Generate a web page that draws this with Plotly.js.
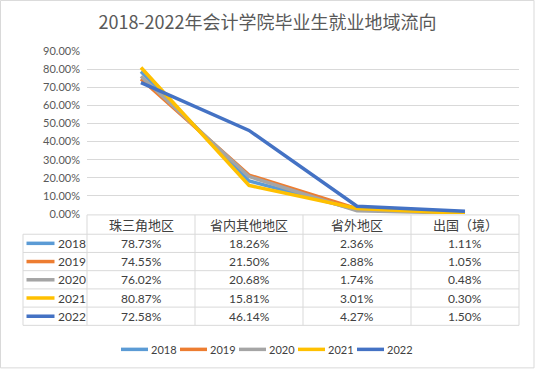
<!DOCTYPE html>
<html>
<head>
<meta charset="utf-8">
<script src="https://cdn.plot.ly/plotly-3.0.1.min.js"></script>
<style>
html,body{margin:0;padding:0;background:#fff;}
#chart{width:535px;height:370px;}
</style>
</head>
<body>
<div id="chart"></div>
<script>
// ---- data ----
var categories = ['珠三角地区', '省内其他地区', '省外地区', '出国（境）'];
var years = ['2018', '2019', '2020', '2021', '2022'];
var v2018 = [78.73, 18.26, 2.36, 1.11];
var v2019 = [74.55, 21.50, 2.88, 1.05];
var v2020 = [76.02, 20.68, 1.74, 0.48];
var v2021 = [80.87, 15.81, 3.01, 0.30];
var v2022 = [72.58, 46.14, 4.27, 1.50];
var yTickVals = [0, 0.1, 0.2, 0.3, 0.4, 0.5, 0.6, 0.7, 0.8, 0.9];
var titleText = '2018-2022年会计学院毕业生就业地域流向';

var series = [v2018, v2019, v2020, v2021, v2022];
var colors = ['#5B9BD5', '#ED7D31', '#A5A5A5', '#FFC000', '#4472C4'];

// ---- geometry (pixels) ----
var W = 535, H = 370;
var L = 87, R = 519, T = 51, B = 213.8;
function px(x) { return (x - L) / (R - L); }
function py(y) { return (B - y) / (B - T); }

var FONT = 'Lato, "Noto Sans CJK SC", sans-serif';
var TXT = '#404040';

var traces = series.map(function (s, i) {
  return {
    type: 'scatter', mode: 'lines', name: years[i],
    x: categories, y: s.map(function (v) { return v / 100; }),
    line: { color: colors[i], width: 3.5 },
    hoverinfo: 'skip', showlegend: false
  };
});

// ---- table ----
var rowLines = [214.7, 234, 252.2, 270.4, 288.6, 306.8, 325];
var colLines = [87, 195, 303, 411, 519];
var tableLeft = 23;
var lineCol = '#d9d9d9';
var shapes = [];
function hline(y, x0, x1) {
  shapes.push({ type: 'line', xref: 'paper', yref: 'paper', x0: px(x0), x1: px(x1), y0: py(y), y1: py(y), line: { color: lineCol, width: 1 } });
}
function vline(x, y0, y1) {
  shapes.push({ type: 'line', xref: 'paper', yref: 'paper', x0: px(x), x1: px(x), y0: py(y0), y1: py(y1), line: { color: lineCol, width: 1 } });
}
hline(rowLines[0], L, R);
for (var r = 1; r < rowLines.length; r++) hline(rowLines[r], tableLeft, R);
vline(tableLeft, rowLines[1], rowLines[rowLines.length - 1]);
colLines.forEach(function (x) { vline(x, rowLines[0], rowLines[rowLines.length - 1]); });

var annotations = [];
categories.forEach(function (c, j) {
  annotations.push({ xref: 'x', yref: 'paper', x: j, y: py((rowLines[0] + rowLines[1]) / 2), text: c, showarrow: false,
    font: { family: FONT, size: 13, color: TXT }, xanchor: 'center', yanchor: 'middle' });
});
series.forEach(function (s, i) {
  var yc = (rowLines[i + 1] + rowLines[i + 2]) / 2;
  // table row key line
  shapes.push({ type: 'line', xref: 'paper', yref: 'paper', x0: px(26.5), x1: px(54.5), y0: py(yc), y1: py(yc), line: { color: colors[i], width: 3.5 } });
  annotations.push({ xref: 'paper', yref: 'paper', x: px(56), y: py(yc), text: years[i], showarrow: false,
    font: { family: FONT, size: 12, color: TXT }, xanchor: 'left', yanchor: 'middle' });
  s.forEach(function (v, j) {
    annotations.push({ xref: 'x', yref: 'paper', x: j, y: py(yc), text: v.toFixed(2) + '%', showarrow: false,
      font: { family: FONT, size: 12, color: TXT }, xanchor: 'center', yanchor: 'middle' });
  });
  // bottom legend entry
  var lx = 121 + i * 59, ly = 349;
  shapes.push({ type: 'line', xref: 'paper', yref: 'paper', x0: px(lx), x1: px(lx + 27), y0: py(ly), y1: py(ly), line: { color: colors[i], width: 3.5 } });
  annotations.push({ xref: 'paper', yref: 'paper', x: px(lx + 28), y: py(ly), text: years[i], showarrow: false,
    font: { family: FONT, size: 11, color: TXT }, xanchor: 'left', yanchor: 'middle' });
});

// outer chart border
shapes.push({ type: 'rect', xref: 'paper', yref: 'paper', x0: px(0.5), x1: px(534), y0: py(0.5), y1: py(367.5), line: { color: '#d9d9d9', width: 1 }, fillcolor: 'rgba(0,0,0,0)' });

var layout = {
  width: W, height: H,
  margin: { l: L, r: W - R, t: T, b: H - B, pad: 0 },
  paper_bgcolor: '#ffffff', plot_bgcolor: '#ffffff',
  title: { text: titleText, x: 0.5, xref: 'container', xanchor: 'center', y: 1 - 23 / H, yref: 'container', yanchor: 'middle',
    font: { family: '"Noto Sans CJK SC", sans-serif', size: 18, color: '#595959' } },
  xaxis: { type: 'category', range: [-0.5, 3.5], showgrid: false, zeroline: false, showline: false, showticklabels: false, fixedrange: true },
  yaxis: { range: [0, 0.9], tickvals: yTickVals, tickformat: '.2%', showgrid: true, gridcolor: '#d9d9d9', gridwidth: 1,
    zeroline: false, showline: false, ticks: '', ticklabelstandoff: 6,
    tickfont: { family: FONT, size: 11, color: '#595959' }, fixedrange: true },
  showlegend: false,
  shapes: shapes,
  annotations: annotations
};

Plotly.newPlot('chart', traces, layout, { displayModeBar: false, staticPlot: true });
</script>
</body>
</html>
